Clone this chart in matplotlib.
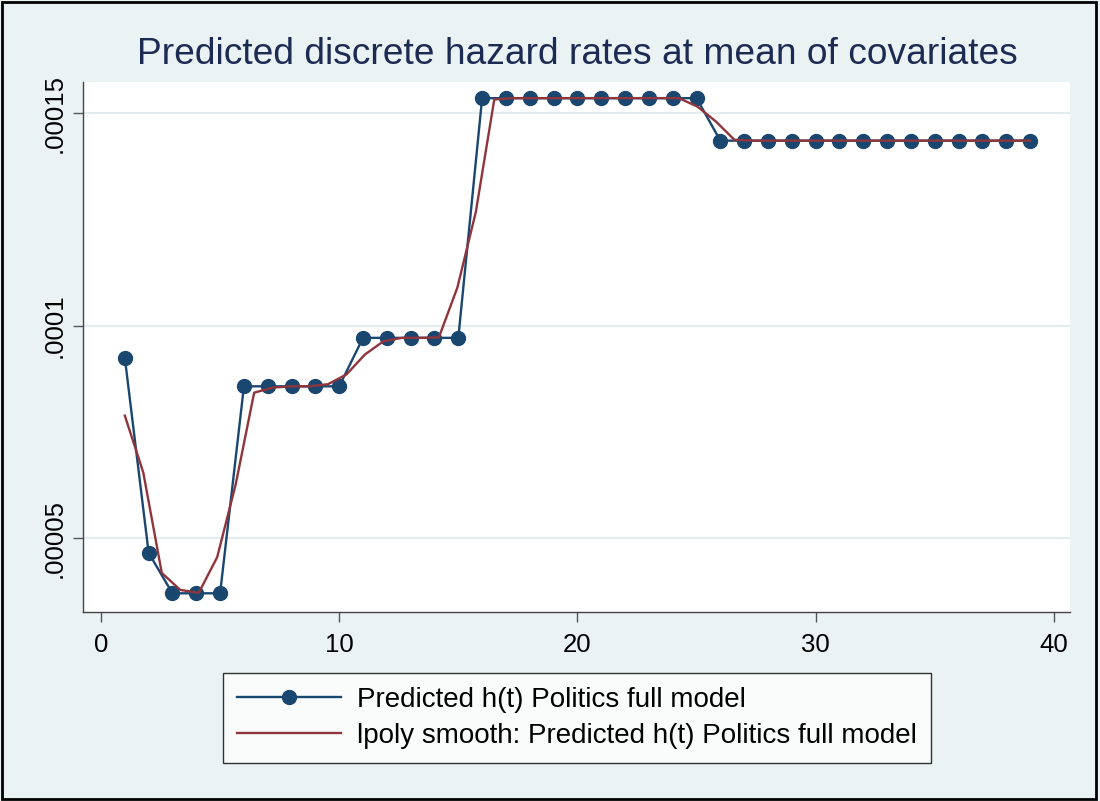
import matplotlib
matplotlib.use("Agg")
import matplotlib.pyplot as plt
import numpy as np
from matplotlib.patches import Rectangle

# predicted discrete hazard, one value per period
periods = list(range(1, 40))
hazard = ([0.0000924, 0.0000465, 0.0000370, 0.0000370, 0.0000370]
          + [0.0000857] * 5
          + [0.0000971] * 5
          + [0.0001535] * 10
          + [0.0001435] * 14)

# lpoly smooth evaluated on its 50-point grid between 1 and 39
smooth_x = np.linspace(1, 39, 50)
smooth_y = [0.0000788, 0.0000654, 0.0000418, 0.0000378, 0.0000371,
            0.0000455, 0.0000626, 0.0000842, 0.0000854, 0.0000857,
            0.0000857, 0.0000862, 0.0000885, 0.0000932, 0.0000963,
            0.0000971, 0.0000971, 0.0000972, 0.0001089, 0.0001267,
            0.0001532, 0.0001535, 0.0001535, 0.0001535, 0.0001535,
            0.0001535, 0.0001535, 0.0001535, 0.0001535, 0.0001535,
            0.0001535, 0.0001515, 0.0001480, 0.0001437, 0.0001435,
            0.0001435, 0.0001435, 0.0001435, 0.0001435, 0.0001435,
            0.0001435, 0.0001435, 0.0001435, 0.0001435, 0.0001435,
            0.0001435, 0.0001435, 0.0001435, 0.0001435, 0.0001435]

y_ticks = [0.00005, 0.0001, 0.00015]
y_tick_labels = [".00005", ".0001", ".00015"]
x_ticks = [0, 10, 20, 30, 40]

BG = "#eaf2f3"
NAVY = "#1a476f"
MAROON = "#90353b"

plt.rcParams["font.family"] = ["Liberation Sans", "DejaVu Sans"]

W, H = 1100, 801
fig = plt.figure(figsize=(W / 100, H / 100), dpi=100)
fig.patch.set_facecolor(BG)

ax = fig.add_axes([83 / W, 1 - 612 / H, (1070 - 83) / W, (612 - 82) / H])
ax.set_facecolor("white")

ax.plot(periods, hazard, color=NAVY, lw=1.7, marker="o", ms=10,
        markeredgecolor=NAVY, label="Predicted h(t) Politics full model", zorder=3)
ax.plot(smooth_x, smooth_y, color=MAROON, lw=1.7,
        label="lpoly smooth: Predicted h(t) Politics full model", zorder=4)

ax.set_xlim(-0.756, 40.68)
ax.set_ylim(0.0000326, 0.0001573)
ax.set_xticks(x_ticks)
ax.set_yticks(y_ticks)
ax.set_yticklabels(y_tick_labels, rotation=90, va="center")
ax.tick_params(axis="both", direction="out", length=7, width=1,
               color="#555555", labelsize=18.5, pad=5)
ax.tick_params(axis="x", pad=8)
ax.grid(axis="y", color="#e3ecee", lw=1.5)
ax.set_axisbelow(True)
for side in ["top", "right"]:
    ax.spines[side].set_visible(False)
for side in ["left", "bottom"]:
    ax.spines[side].set_color("#444444")
    ax.spines[side].set_linewidth(1)

fig.text(577 / W, 1 - 55 / H, "Predicted discrete hazard rates at mean of covariates",
         ha="center", va="center", fontsize=26.7, color="#1c2b53")

leg = ax.legend(loc="center", bbox_to_anchor=(577 / W, 1 - 718 / H),
                bbox_transform=fig.transFigure, fontsize=20, frameon=True,
                fancybox=False, edgecolor="black", handlelength=3.75,
                handletextpad=0.6, labelspacing=0.35, borderpad=0.5,
                borderaxespad=0)
leg.get_frame().set_linewidth(1)

fig.patches.append(Rectangle((2 / W, 2 / H), (1096 - 2) / W, (799 - 2) / H,
                             transform=fig.transFigure, fill=False,
                             edgecolor="black", lw=2))

fig.savefig("out.png", dpi=100, facecolor=fig.get_facecolor())
